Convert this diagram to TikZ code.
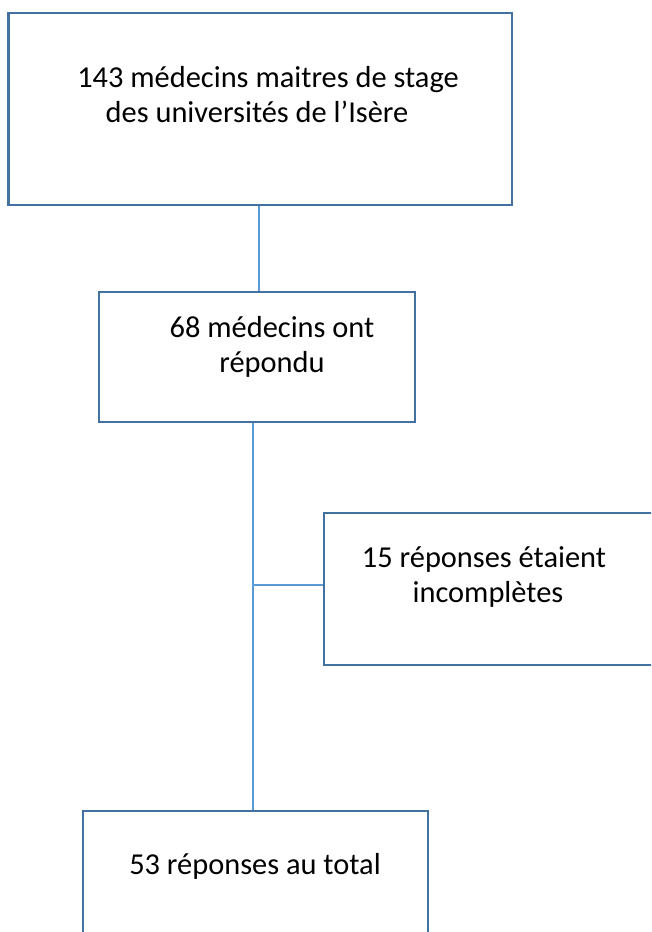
\documentclass[tikz,border=0pt]{standalone}
\usepackage{fontspec}
\setmainfont{Carlito}
\definecolor{boxblue}{RGB}{68,114,160}
\definecolor{lineblue}{RGB}{91,155,213}
\begin{document}
\begin{tikzpicture}[x=1pt,y=-1pt,
  box/.style={draw=boxblue,line width=2.8pt,inner sep=0pt,fill=none},
  conn/.style={draw=lineblue,line width=1.6pt},
  lbl/.style={font=\fontsize{30.4}{35}\selectfont,inner sep=0pt,anchor=base,text=black}]
\useasboundingbox (0,0) rectangle (651,932);
\clip (0,0) rectangle (651,932);
% boxes
\node[box,minimum width=503.5pt,minimum height=192pt] (b1) at (260.25,109) {};
\node[box,minimum width=316pt,minimum height=130pt] (b2) at (257,357) {};
\node[box,minimum width=356pt,minimum height=152pt] (b3) at (502,589) {};
\node[box,minimum width=345pt,minimum height=149pt] (b4) at (255.5,885.5) {};
% texts
\node[lbl] (t1a) at (268,87) {143 médecins maitres de stage};
\node[lbl] (t1b) at (257,122) {des universités de l’Isère};
\node[lbl] (t2a) at (272,337) {68 médecins ont};
\node[lbl] (t2b) at (272,372) {répondu};
\node[lbl] (t3a) at (484,567) {15 réponses étaient};
\node[lbl] (t3b) at (488,602) {incomplètes};
\node[lbl] (t4) at (255,874) {53 réponses au total};
% connectors
\coordinate (c1) at (259,0);
\coordinate (c2) at (253,0);
\coordinate (j) at (253,585);
\draw[conn] (b1.south -| c1) -- (b2.north -| c1);
\draw[conn] (b2.south -| c2) -- (b4.north -| c2);
\draw[conn] (j) -- (b3.west |- j);
\end{tikzpicture}
\end{document}
